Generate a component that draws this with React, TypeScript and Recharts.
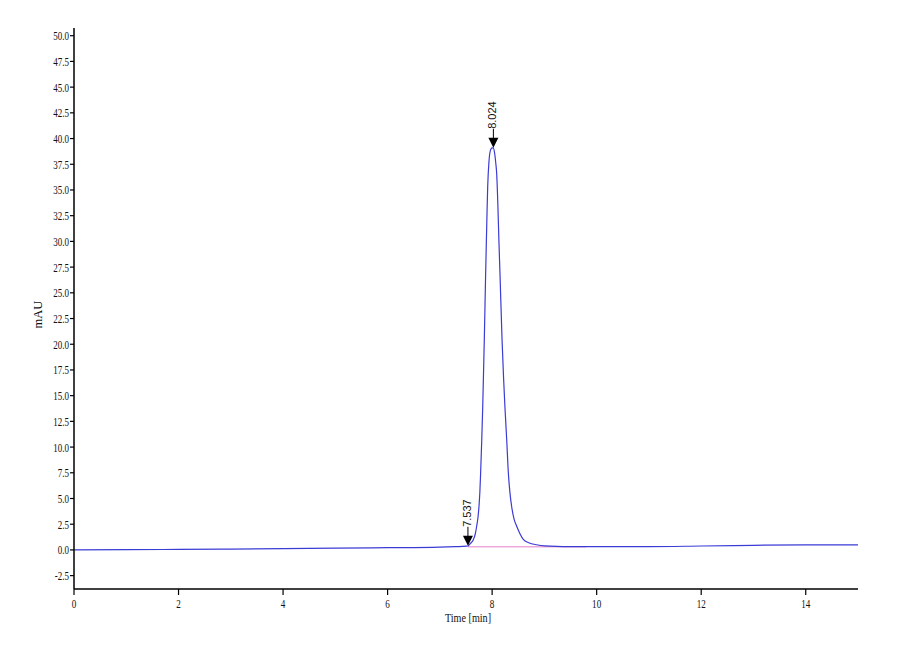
import React from "react";
import {
  ComposedChart,
  Line,
  Scatter,
  XAxis,
  YAxis,
  ReferenceLine,
  Label,
} from "recharts";

// retention time (min) and signal (mAU)
const times = [
  0, 1, 2, 3, 4, 5, 6, 7, 7.3, 7.5, 7.537, 7.56, 7.6, 7.64, 7.675, 7.704,
  7.73, 7.748, 7.765, 7.78, 7.8, 7.82, 7.85, 7.876, 7.9, 7.915, 7.94, 7.97,
  8.0, 8.024, 8.05, 8.07, 8.087, 8.11, 8.13, 8.15, 8.19, 8.22, 8.245, 8.28,
  8.31, 8.34, 8.374, 8.42, 8.47, 8.53, 8.6, 8.7, 8.85, 9.0, 9.5, 10, 11, 12,
  13, 14, 15,
];
const signal = [
  0.0, 0.02, 0.05, 0.08, 0.12, 0.18, 0.22, 0.28, 0.32, 0.36, 0.38, 0.5, 0.7,
  1.0, 1.5, 2.3, 3.2, 4.2, 5.6, 7.5, 10.5, 13.9, 20.4, 26.9, 32.3, 35.3, 37.8,
  38.9, 39.1, 39.1, 38.5, 37.6, 36.6, 33.5, 30.0, 26.9, 20.4, 16.6, 13.9, 10.6,
  7.5, 5.6, 4.2, 3.0, 2.3, 1.6, 1.0, 0.7, 0.5, 0.4, 0.33, 0.32, 0.32, 0.38,
  0.45, 0.49, 0.5,
];

// peak annotations
const peakTimes = [7.537, 8.024];
const peakHeights = [0.4, 39.1];
const peakLabels = ["7.537", "8.024"];

// integration baseline segment
const baseStart = { t: 7.537, v: 0.3 };
const baseEnd = { t: 9.8, v: 0.3 };

const xTicks = [0, 2, 4, 6, 8, 10, 12, 14];
const yTicks = [
  -2.5, 0, 2.5, 5, 7.5, 10, 12.5, 15, 17.5, 20, 22.5, 25, 27.5, 30, 32.5, 35,
  37.5, 40, 42.5, 45, 47.5, 50,
];

const trace = times.map((t, i) => ({ t, v: signal[i] }));
const peaks = peakTimes.map((t, i) => ({ t, v: peakHeights[i], label: peakLabels[i] }));

const SERIF = "'Liberation Serif', 'Times New Roman', serif";
const SANS = "'Liberation Sans', Arial, sans-serif";

const YTick = (props: any) => {
  const { x, y, payload } = props;
  return (
    <g transform={`translate(${x},${y})`}>
      <text
        transform="scale(0.72,1)"
        textAnchor="end"
        dy="0.36em"
        fontFamily={SERIF}
        fontSize={12.5}
        fill="#111"
      >
        {Number(payload.value).toFixed(1)}
      </text>
    </g>
  );
};

const XTick = (props: any) => {
  const { x, y, payload } = props;
  return (
    <g transform={`translate(${x},${y})`}>
      <text
        transform="scale(0.7,1)"
        textAnchor="middle"
        dy="0.75em"
        fontFamily={SERIF}
        fontSize={13}
        fill="#111"
      >
        {payload.value}
      </text>
    </g>
  );
};

const PeakMark = (props: any) => {
  const { cx, cy, payload } = props;
  if (cx == null || cy == null) return null;
  const tip = cy;
  const tx = cx - 1;
  const ty = tip - 19;
  return (
    <g>
      <line x1={cx} y1={tip - 19} x2={cx} y2={tip - 9} stroke="#000" strokeWidth={1} />
      <path d={`M${cx - 5},${tip - 10} L${cx + 5},${tip - 10} L${cx},${tip} Z`} fill="#000" />
      <text
        x={tx}
        y={ty}
        transform={`rotate(-90 ${tx} ${ty})`}
        textAnchor="start"
        dy="0.35em"
        fontFamily={SANS}
        fontSize={11}
        fill="#111"
      >
        {payload.label}
      </text>
    </g>
  );
};

const YLabel = (props: any) => {
  const vb = props.viewBox || { x: 0, y: 0, width: 66, height: 561 };
  const x = vb.x + 30;
  const y = vb.y + vb.height / 2 + 6;
  return (
    <text
      x={x}
      y={y}
      transform={`rotate(-90 ${x} ${y})`}
      textAnchor="middle"
      dy="0.35em"
      fontFamily={SERIF}
      fontSize={12.5}
      fill="#111"
    >
      mAU
    </text>
  );
};

const XLabel = (props: any) => {
  const vb = props.viewBox || { x: 66, y: 581, width: 784, height: 71 };
  const x = vb.x + vb.width / 2 + 2;
  const y = vb.y + 33;
  return (
    <g transform={`translate(${x},${y})`}>
      <text transform="scale(0.78,1)" textAnchor="middle" fontFamily={SERIF} fontSize={13} fill="#111">
        Time [min]
      </text>
    </g>
  );
};

export default function App() {
  return (
    <div style={{ width: 892, height: 652, background: "#fff" }}>
      <ComposedChart
        width={892}
        height={652}
        data={trace}
        margin={{ top: 20, right: 42, bottom: 0, left: 0 }}
      >
        <XAxis
          dataKey="t"
          type="number"
          domain={[0, 15]}
          ticks={xTicks}
          interval={0}
          height={71}
          tickSize={6}
          tickMargin={3}
          tick={<XTick />}
          axisLine={{ stroke: "#000", strokeWidth: 1.5 }}
          tickLine={{ stroke: "#000", strokeWidth: 1.2 }}
          allowDataOverflow
        >
          <Label content={<XLabel />} />
        </XAxis>
        <YAxis
          type="number"
          domain={[-3.8, 50.75]}
          ticks={yTicks}
          interval={0}
          width={66}
          tickSize={4}
          tickMargin={1}
          tick={<YTick />}
          axisLine={{ stroke: "#000", strokeWidth: 1.5 }}
          tickLine={{ stroke: "#000", strokeWidth: 1.2 }}
          allowDataOverflow
        >
          <Label content={<YLabel />} />
        </YAxis>
        <ReferenceLine
          segment={[
            { x: baseStart.t, y: baseStart.v },
            { x: baseEnd.t, y: baseEnd.v },
          ]}
          stroke="#e27fc9"
          strokeWidth={1}
        />
        <Line
          dataKey="v"
          type="monotone"
          stroke="#3b3bd6"
          strokeWidth={1.2}
          dot={false}
          activeDot={false}
          isAnimationActive={false}
        />
        <Scatter
          data={peaks}
          dataKey="v"
          shape={<PeakMark />}
          isAnimationActive={false}
        />
      </ComposedChart>
    </div>
  );
}
